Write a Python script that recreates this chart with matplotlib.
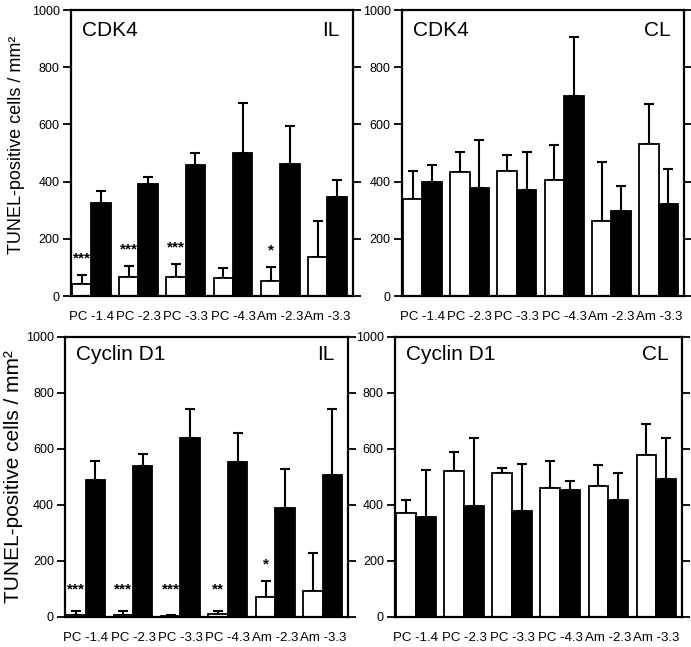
import matplotlib
matplotlib.use('Agg')
import matplotlib.pyplot as plt
import numpy as np

plt.rcParams['font.family'] = ['Liberation Sans', 'DejaVu Sans']

GROUPS = ['PC -1.4', 'PC -2.3', 'PC -3.3', 'PC -4.3', 'Am -2.3', 'Am -3.3']
Y_TICKS = [0, 200, 400, 600, 800, 1000]

# CDK4, ipsilateral
CDK4_IL_WHITE = [43, 68, 68, 63, 51, 137]
CDK4_IL_WHITE_SEM = [31, 36, 44, 35, 50, 125]
CDK4_IL_BLACK = [324, 392, 457, 499, 462, 347]
CDK4_IL_BLACK_SEM = [42, 23, 42, 175, 134, 57]
CDK4_IL_STARS = ['***', '***', '***', '', '*', '']

# CDK4, contralateral
CDK4_CL_WHITE = [340, 433, 437, 405, 261, 530]
CDK4_CL_WHITE_SEM = [96, 70, 55, 122, 208, 140]
CDK4_CL_BLACK = [398, 379, 372, 699, 297, 320]
CDK4_CL_BLACK_SEM = [59, 167, 130, 205, 88, 123]
CDK4_CL_STARS = ['', '', '', '', '', '']

# Cyclin D1, ipsilateral
CYC_IL_WHITE = [8, 8, 5, 11, 71, 92]
CYC_IL_WHITE_SEM = [15, 15, 2, 12, 59, 136]
CYC_IL_BLACK = [490, 540, 640, 555, 389, 508]
CYC_IL_BLACK_SEM = [68, 43, 103, 101, 139, 235]
CYC_IL_STARS = ['***', '***', '***', '**', '*', '']

# Cyclin D1, contralateral
CYC_CL_WHITE = [370, 520, 513, 462, 466, 579]
CYC_CL_WHITE_SEM = [46, 69, 20, 96, 78, 111]
CYC_CL_BLACK = [358, 395, 379, 453, 416, 491]
CYC_CL_BLACK_SEM = [168, 244, 167, 34, 98, 149]
CYC_CL_STARS = ['', '', '', '', '', '']

BAR_WIDTH = 0.41
YLABEL = 'TUNEL-positive cells / mm²'


def draw_panel(ax, name, side, white, white_sem, black, black_sem, stars, title_y):
    """
    Draws one panel: white and black bars with upper error bars.
    """
    x = np.arange(len(GROUPS))
    xw = x - BAR_WIDTH / 2
    xb = x + BAR_WIDTH / 2
    zeros = [0] * len(GROUPS)

    ax.bar(xw, white, BAR_WIDTH, color='white', edgecolor='black', linewidth=1.3, zorder=2)
    ax.bar(xb, black, BAR_WIDTH, color='black', edgecolor='black', linewidth=1.3, zorder=2)
    ax.errorbar(xw, white, yerr=[zeros, white_sem], fmt='none', ecolor='black',
                elinewidth=1.5, capsize=3.5, capthick=1.5, zorder=1)
    ax.errorbar(xb, black, yerr=[zeros, black_sem], fmt='none', ecolor='black',
                elinewidth=1.5, capsize=3.5, capthick=1.5, zorder=1)

    # significance marks over the white bars
    for xi, m, s, st in zip(xw, white, white_sem, stars):
        if st:
            ax.text(xi, max(m + s + 58, 100), st, ha='center', va='center',
                    fontsize=11, fontweight='bold')

    ax.set_xlim(-0.434, 5.533)
    ax.set_ylim(0, 1000)
    ax.set_yticks(Y_TICKS)
    ax.set_xticks(x)
    ax.set_xticklabels(GROUPS, fontsize=9.5)
    ax.tick_params(axis='x', length=0, pad=11)
    ax.tick_params(axis='y', direction='out', length=6, width=1.3, labelsize=9,
                   right=True, labelright=False, pad=2)
    for sp in ax.spines.values():
        sp.set_linewidth(1.6)

    ax.text(0.04, title_y, name, transform=ax.transAxes, ha='left', va='center', fontsize=15)
    ax.text(0.953, title_y, side, transform=ax.transAxes, ha='right', va='center', fontsize=15)


def main():
    fig = plt.figure(figsize=(6.91, 6.47), dpi=100)

    ax1 = fig.add_axes([0.1023, 0.5425, 0.4081, 0.4420])
    ax2 = fig.add_axes([0.5813, 0.5425, 0.4085, 0.4420])
    ax3 = fig.add_axes([0.0941, 0.0464, 0.4096, 0.4328])
    ax4 = fig.add_axes([0.5716, 0.0464, 0.4153, 0.4328])

    draw_panel(ax1, 'CDK4', 'IL', CDK4_IL_WHITE, CDK4_IL_WHITE_SEM,
               CDK4_IL_BLACK, CDK4_IL_BLACK_SEM, CDK4_IL_STARS, 0.927)
    draw_panel(ax2, 'CDK4', 'CL', CDK4_CL_WHITE, CDK4_CL_WHITE_SEM,
               CDK4_CL_BLACK, CDK4_CL_BLACK_SEM, CDK4_CL_STARS, 0.927)
    draw_panel(ax3, 'Cyclin D1', 'IL', CYC_IL_WHITE, CYC_IL_WHITE_SEM,
               CYC_IL_BLACK, CYC_IL_BLACK_SEM, CYC_IL_STARS, 0.936)
    draw_panel(ax4, 'Cyclin D1', 'CL', CYC_CL_WHITE, CYC_CL_WHITE_SEM,
               CYC_CL_BLACK, CYC_CL_BLACK_SEM, CYC_CL_STARS, 0.936)

    ax1.set_ylabel(YLABEL, fontsize=13)
    ax1.yaxis.set_label_coords(-0.162, 0.53)
    ax3.set_ylabel(YLABEL, fontsize=15)
    ax3.yaxis.set_label_coords(-0.15, 0.5)

    fig.savefig('out.png', dpi=100)


if __name__ == '__main__':
    main()
